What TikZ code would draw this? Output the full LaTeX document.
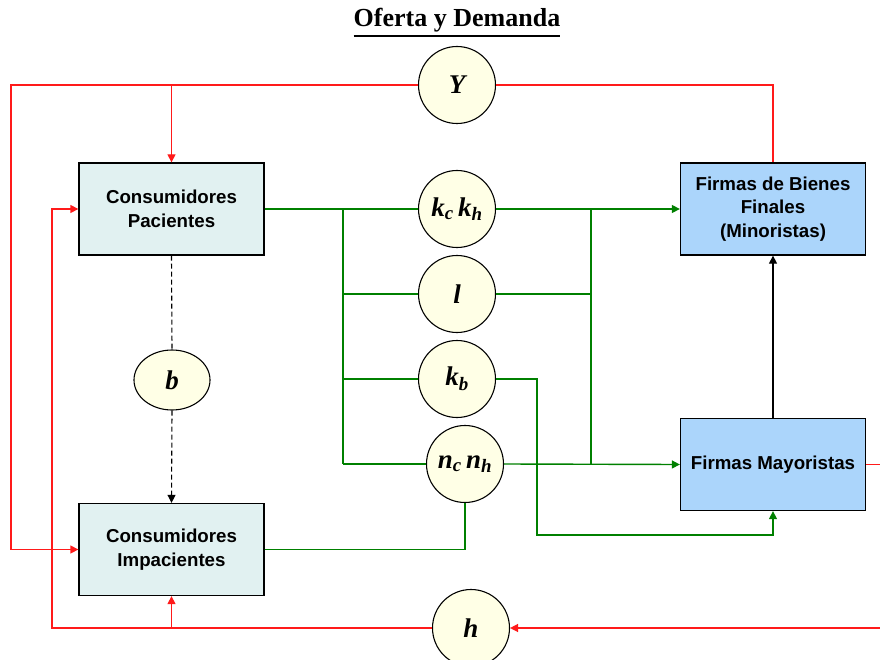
\documentclass[tikz,border=0pt]{standalone}
\usepackage{amsmath, amssymb}
\usepackage{fontspec}
\setmainfont{Liberation Serif}
\setsansfont{Liberation Sans}
\usepackage{xcolor}
\usepackage{tikz}
\usetikzlibrary{arrows.meta, shapes.geometric}
\definecolor{boxcyan}{HTML}{E1F1F1}
\definecolor{boxblue}{HTML}{ABD5FB}
\definecolor{varfill}{HTML}{FFFFE6}
\definecolor{flowgreen}{HTML}{008000}
\definecolor{flowred}{HTML}{FF1A1A}
\tikzset{
    agent/.style={draw, fill=boxcyan, line width=1.3pt, minimum width=185pt, minimum height=92pt,
        align=center, font=\sffamily\bfseries\fontsize{18.7}{23.5}\selectfont},
    firm/.style={agent, fill=boxblue},
    var/.style={circle, draw, fill=varfill, line width=1.1pt, minimum size=77pt, inner sep=0pt,
        font=\fontsize{27}{30}\selectfont\bfseries\itshape},
    redline/.style={draw=flowred, line width=1.3pt},
    greenline/.style={draw=flowgreen, line width=1.4pt}
}

\begin{document}
\begin{tikzpicture}[x=1pt, y=-1pt, >={Triangle[length=8pt, width=8pt]}]
    \useasboundingbox (0,0) rectangle (880,660);
    \node (title) at (457,23) {\fontsize{26}{30}\selectfont\bfseries\underline{Oferta y Demanda}};
    % agents
    \node[agent] (pac) at (171.5,209) {Consumidores\\Pacientes};
    \node[agent] (imp) at (171.5,549.5) {Consumidores\\Impacientes};
    \node[firm] (bf) at (773,209) {Firmas de Bienes\\Finales\\(Minoristas)};
    \node[firm] (may) at (773,464.5) {Firmas Mayoristas};
    % variables
    \node[var] (Y) at (457,85) {Y};
    \node[var] (kck) at (457,209) {k\textsubscript{c}\,k\textsubscript{h}};
    \node[var] (l) at (457,294) {l};
    \node[var] (kb) at (457,379) {k\textsubscript{b}};
    \node[var] (nc) at (465,464) {n\textsubscript{c}\,n\textsubscript{h}};
    \node[var] (h) at (471,628) {h};
    \node[var, ellipse, minimum width=76pt, minimum height=60pt] (b) at (172,380) {b};
    \coordinate (jl) at (343,209);
    \coordinate (jr) at (591,209);

    % income
    \draw[redline, ->] (Y.west) -- ++(-407,0) |- (imp.west);
    \draw[redline, ->] (pac.north |- Y) -- (pac.north);
    \draw[redline] (Y.east) -| (bf.north);
    % housing
    \draw[redline, ->] (may.east) -- ++(30,0) |- (h.east);
    \draw[redline, ->] (h.west) -- ++(-380,0) |- (pac.west);
    \draw[redline, ->] (imp.south |- h) -- (imp.south);

    % markets
    \draw[greenline] (pac.east) -- (kck.west);
    \draw[greenline] (jl) -- (jl |- nc);
    \foreach \v in {l, kb, nc}
        \draw[greenline] (jl |- \v) -- (\v.west);
    \draw[greenline, ->] (kck.east) -- (bf.west);
    \draw[greenline] (jr) -- (jr |- nc);
    \draw[greenline] (l.east) -- (jr |- l);
    \draw[greenline, ->] (nc.east) -- (may.west);
    \draw[greenline, ->] (kb.east) -| ++(41,156) -| (may.south);
    \draw[greenline] (imp.east) -| (nc.south);

    \draw[line width=1.3pt, ->] (may.north) -- (bf.south);
    \draw[line width=1.1pt, dash pattern=on 5pt off 3pt] (pac.south) -- (b.north);
    \draw[line width=1.1pt, dash pattern=on 5pt off 3pt, ->] (b.south) -- (imp.north);
\end{tikzpicture}
\end{document}
